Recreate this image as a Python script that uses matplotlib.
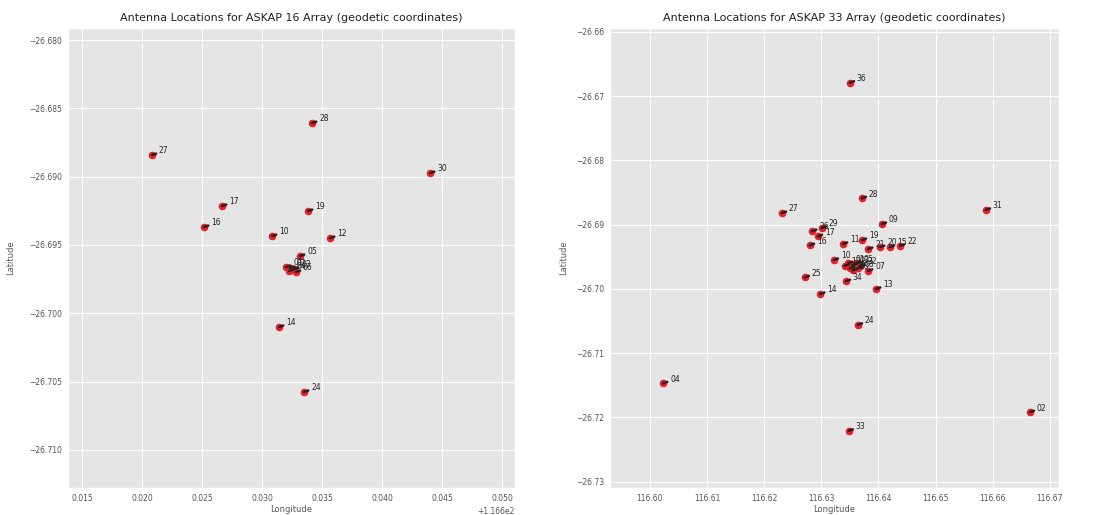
import matplotlib
matplotlib.use("Agg")
import matplotlib.pyplot as plt

plt.style.use("ggplot")

# ---------------- ASKAP 16 antennas ----------------
names_16 = ["28", "27", "30", "17", "19", "16", "10", "12", "05",
            "01", "02", "03", "04", "06", "14", "24"]
lon_16 = [116.63417, 116.62083, 116.64400, 116.62667, 116.63383, 116.62517,
          116.63083, 116.63567, 116.63317, 116.63200, 116.63233, 116.63267,
          116.63225, 116.63283, 116.63142, 116.63350]
lat_16 = [-26.68608, -26.68842, -26.68974, -26.69215, -26.69252, -26.69369,
          -26.69435, -26.69450, -26.69581, -26.69662, -26.69669, -26.69676,
          -26.69691, -26.69698, -26.70101, -26.70577]

# ---------------- ASKAP 33 antennas ----------------
names_33 = ["36", "28", "27", "31", "09", "26", "29", "17", "16", "11",
            "19", "21", "20", "15", "22", "10", "01", "03", "05", "06",
            "08", "12", "18", "32", "07", "25", "34", "14", "13", "24",
            "04", "02", "33"]
lon_33 = [116.6350, 116.6371, 116.6231, 116.6588, 116.6406, 116.6284,
          116.6301, 116.6294, 116.6280, 116.6338, 116.6371, 116.6382,
          116.6403, 116.6420, 116.6438, 116.6322, 116.6347, 116.6354,
          116.6361, 116.6350, 116.6364, 116.6341, 116.6355, 116.6368,
          116.6382, 116.6271, 116.6343, 116.6298, 116.6396, 116.6364,
          116.6023, 116.6665, 116.6348]
lat_33 = [-26.6679, -26.6859, -26.6882, -26.6877, -26.6899, -26.6910,
          -26.6905, -26.6918, -26.6932, -26.6930, -26.6924, -26.6938,
          -26.6935, -26.6935, -26.6933, -26.6955, -26.6960, -26.6963,
          -26.6960, -26.6968, -26.6968, -26.6964, -26.6971, -26.6964,
          -26.6972, -26.6982, -26.6988, -26.7008, -26.7000, -26.7056,
          -26.7147, -26.7192, -26.7221]

xticks_16 = [116.615, 116.620, 116.625, 116.630, 116.635, 116.640, 116.645, 116.650]
yticks_16 = [-26.680, -26.685, -26.690, -26.695, -26.700, -26.705, -26.710]
xticks_33 = [116.60, 116.61, 116.62, 116.63, 116.64, 116.65, 116.66, 116.67]
yticks_33 = [-26.66, -26.67, -26.68, -26.69, -26.70, -26.71, -26.72, -26.73]

fig = plt.figure(figsize=(10.97, 5.15), dpi=100)
ax1 = fig.add_axes([0.062, 0.0524, 0.4075, 0.893])
ax2 = fig.add_axes([0.556, 0.0524, 0.4093, 0.893])


def draw_array(ax, lon, lat, names, title, ypad):
    ax.plot(lon, lat, "o", color="#e8202a", markersize=4.5, zorder=3)
    for x, y, n in zip(lon, lat, names):
        ax.annotate(n, xy=(x, y), xytext=(5, 3), textcoords="offset points",
                    fontsize=5.5, color="#222222", va="center",
                    arrowprops=dict(arrowstyle="-", color="#222222", lw=1.8,
                                    shrinkA=0, shrinkB=0),
                    zorder=4)
    ax.set_title(title, fontsize=8, color="#222222", pad=5)
    ax.set_xlabel("Longitude", fontsize=6, color="#555555", labelpad=2)
    ax.set_ylabel("Latitude", fontsize=6, color="#555555", labelpad=ypad)
    ax.tick_params(labelsize=5.5, colors="#555555", length=0, pad=4)


draw_array(ax1, lon_16, lat_16, names_16,
           "Antenna Locations for ASKAP 16 Array (geodetic coordinates)", 10)
ax1.set_xlim(116.61383, 116.65108)
ax1.set_ylim(-26.7128, -26.67912)
ax1.set_xticks(xticks_16)
ax1.set_yticks(yticks_16)
ax1.ticklabel_format(axis="x", useOffset=116.6)
ax1.ticklabel_format(axis="y", useOffset=False)
ax1.xaxis.get_offset_text().set_fontsize(5.5)
ax1.xaxis.get_offset_text().set_color("#555555")

draw_array(ax2, lon_33, lat_33, names_33,
           "Antenna Locations for ASKAP 33 Array (geodetic coordinates)", 6)
ax2.set_xlim(116.5930, 116.6716)
ax2.set_ylim(-26.7310, -26.6594)
ax2.set_xticks(xticks_33)
ax2.set_yticks(yticks_33)
ax2.ticklabel_format(axis="both", useOffset=False)

fig.savefig("out.png", dpi=100)
